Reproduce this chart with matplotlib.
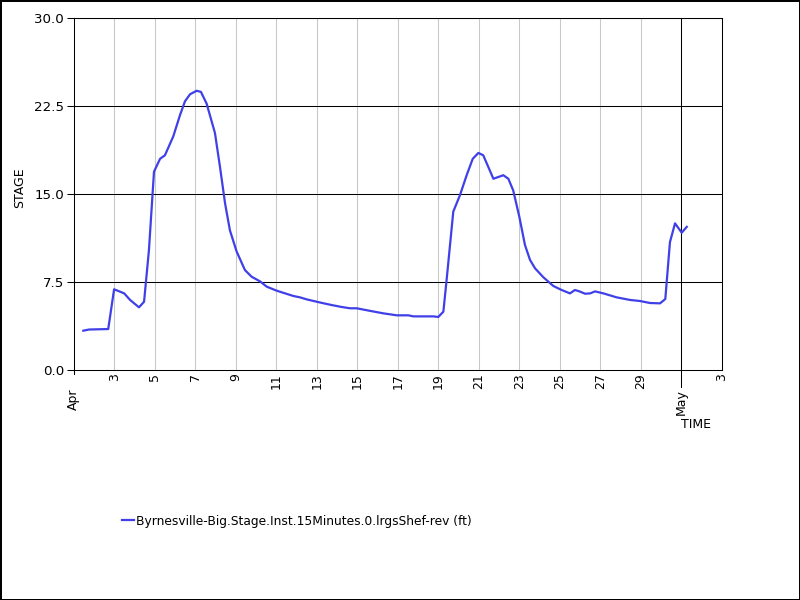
import matplotlib
matplotlib.use("Agg")
import matplotlib.pyplot as plt

# Day of April (Apr 1 = 1, May 1 = 31) and stage in ft
days = [1.47, 1.75, 2.70, 2.99, 3.49, 3.78, 4.22, 4.47, 4.71, 4.96, 5.26, 5.50,
        5.91, 6.24, 6.49, 6.74, 7.07, 7.28, 7.56, 7.97, 8.22, 8.47, 8.71, 9.04,
        9.45, 9.78, 10.20, 10.53, 11.02, 11.40, 11.84, 12.17, 12.50, 12.99, 13.40,
        13.81, 14.20, 14.64, 14.97, 15.60, 16.28, 16.95, 17.52, 17.77, 18.30,
        18.75, 19.00, 19.25, 19.41, 19.74, 20.07, 20.40, 20.70, 20.98, 21.22,
        21.47, 21.72, 22.21, 22.46, 22.70, 23.00, 23.28, 23.53, 23.78, 24.19,
        24.68, 25.09, 25.50, 25.75, 26.00, 26.25, 26.50, 26.74, 27.15, 27.81,
        28.47, 28.96, 29.45, 29.95, 30.21, 30.44, 30.69, 31.02, 31.27]
stage = [3.35, 3.45, 3.49, 6.88, 6.53, 5.97, 5.34, 5.82, 10.2, 16.9, 18.0, 18.3,
         19.9, 21.7, 22.9, 23.5, 23.8, 23.7, 22.7, 20.2, 17.3, 14.2, 11.9, 10.1,
         8.52, 7.95, 7.55, 7.10, 6.76, 6.55, 6.31, 6.19, 6.02, 5.82, 5.66,
         5.51, 5.38, 5.26, 5.26, 5.05, 4.83, 4.66, 4.66, 4.57, 4.57,
         4.57, 4.52, 4.97, 7.67, 13.5, 14.9, 16.6, 18.0, 18.5, 18.3,
         17.3, 16.3, 16.6, 16.3, 15.3, 13.07, 10.65, 9.38, 8.66, 7.90,
         7.16, 6.82, 6.53, 6.82, 6.68, 6.50, 6.53, 6.70, 6.53, 6.19,
         5.97, 5.88, 5.71, 5.68, 6.05, 10.9, 12.5, 11.7, 12.2]

day_ticks = [3, 5, 7, 9, 11, 13, 15, 17, 19, 21, 23, 25, 27, 29, 33]
day_labels = ["3", "5", "7", "9", "11", "13", "15", "17", "19", "21", "23",
              "25", "27", "29", "3"]
month_ticks = [1, 31]
month_labels = ["Apr", "May"]
y_ticks = [0.0, 7.5, 15.0, 22.5, 30.0]
y_labels = ["0.0", "7.5", "15.0", "22.5", "30.0"]
series_name = "Byrnesville-Big.Stage.Inst.15Minutes.0.lrgsShef-rev (ft)"

plt.rcParams['font.family'] = ['DejaVu Sans']
FS = 9
LW = 0.75

fig = plt.figure(figsize=(8, 6), dpi=100, facecolor='white',
                 edgecolor='black', linewidth=2)
ax = fig.add_axes([73.8 / 800, 1 - 370 / 600, (721.8 - 73.8) / 800, 352 / 600])

ax.set_xlim(1, 33)
ax.set_ylim(0, 30)

# gridlines
for d in day_ticks[:-1]:
    ax.axvline(d, color='#c8c8c8', lw=LW, zorder=1)
ax.axvline(month_ticks[1], color='black', lw=LW, zorder=1)
for yv in y_ticks[1:]:
    ax.axhline(yv, color='black', lw=LW, zorder=1)

line, = ax.plot(days, stage, color='#4040e8', lw=1.6, zorder=3,
                solid_joinstyle='round')

for s in ax.spines.values():
    s.set_color('black')
    s.set_linewidth(LW)

ax.set_yticks(y_ticks)
ax.set_yticklabels(y_labels, fontsize=9.6)
ax.tick_params(axis='y', length=5, width=LW, pad=2, colors='black')

ax.set_xticks(day_ticks)
ax.set_xticklabels(day_labels, fontsize=FS, rotation=90, va='top', ha='center')
ax.tick_params(axis='x', which='major', length=0, pad=2.5)
ax.set_xticks(month_ticks, minor=True)
ax.set_xticklabels(month_labels, minor=True, fontsize=FS, rotation=90,
                   va='top', ha='center')
ax.tick_params(axis='x', which='minor', length=0, pad=13.5)

# month tick marks below the axis (long for May, short for Apr)
xt = ax.get_xaxis_transform()
ax.plot([month_ticks[1]] * 2, [0, -17 / 352], transform=xt, color='black',
        lw=LW, clip_on=False)
ax.plot([month_ticks[0]] * 2, [0, -4 / 352], transform=xt, color='black',
        lw=LW, clip_on=False)

fig.text(20 / 800, 1 - 188 / 600, "STAGE", rotation=90, ha='center',
         va='center', fontsize=FS)
fig.text(681 / 800, 1 - 424 / 600, "TIME", ha='left', va='center', fontsize=FS)

fig.legend([line], [series_name], loc='center left',
           bbox_to_anchor=(122 / 800, 1 - 521 / 600), frameon=False,
           fontsize=8.8, handlelength=0.95, handletextpad=0.2,
           borderpad=0, borderaxespad=0)

fig.savefig("out.png", dpi=100, facecolor='white', edgecolor='black')
